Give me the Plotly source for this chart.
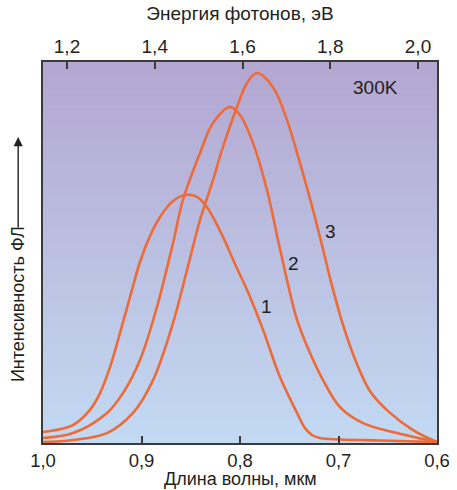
import plotly.graph_objects as go
import numpy as np

# ---- data ----
lam1 = [1.000, 0.9827, 0.9695, 0.9523, 0.9421, 0.9320, 0.9218, 0.9117, 0.9015, 0.8914, 0.8812,
        0.8680, 0.8558, 0.8437, 0.8335, 0.8173, 0.8051, 0.7929, 0.7766, 0.7594, 0.7421,
        0.7340, 0.7269, 0.7188, 0.6985, 0.6579, 0.6000]
int1 = [0.029, 0.036, 0.047, 0.087, 0.131, 0.199, 0.289, 0.383, 0.475, 0.543, 0.593,
        0.635, 0.651, 0.646, 0.619, 0.541, 0.470, 0.402, 0.297, 0.173, 0.079,
        0.039, 0.021, 0.013, 0.0092, 0.0066, 0.0026]

lam2 = [1.000, 0.9695, 0.9350, 0.9188, 0.9015, 0.8843, 0.8680, 0.8579, 0.8406, 0.8274,
        0.8102, 0.8000, 0.7868, 0.7726, 0.7614, 0.7523, 0.7421, 0.7289, 0.7157, 0.6985,
        0.6751, 0.6406, 0.6000]
int2 = [0.013, 0.026, 0.079, 0.131, 0.218, 0.357, 0.525, 0.638, 0.761, 0.840,
        0.882, 0.861, 0.787, 0.664, 0.533, 0.428, 0.323, 0.236, 0.165, 0.094,
        0.052, 0.026, 0.0026]

lam3 = [1.000, 0.9695, 0.9350, 0.9086, 0.8883, 0.8680, 0.8538, 0.8406, 0.8274, 0.8173,
        0.8030, 0.7929, 0.7827, 0.7665, 0.7523, 0.7391, 0.7259, 0.7168, 0.7086, 0.6954,
        0.6812, 0.6680, 0.6477, 0.6244, 0.6000]
int3 = [0.0026, 0.008, 0.026, 0.079, 0.165, 0.315, 0.454, 0.585, 0.690, 0.777,
        0.882, 0.945, 0.971, 0.934, 0.848, 0.735, 0.612, 0.520, 0.433, 0.310,
        0.207, 0.136, 0.079, 0.034, 0.0026]

wl_ticks = [1.0, 0.9, 0.8, 0.7, 0.6]
wl_labels = ["1,0", "0,9", "0,8", "0,7", "0,6"]
en_ticks = [1.2, 1.4, 1.6, 1.8, 2.0]
en_labels = ["1,2", "1,4", "1,6", "1,8", "2,0"]

FONT = "Liberation Sans, Arial, sans-serif"
FS = 19
ORANGE = "#ec6b38"
TXT = "#231f20"
FRAME = "#3a3a3a"

fig = go.Figure()
for lam, inten in [(lam1, int1), (lam2, int2), (lam3, int3)]:
    fig.add_trace(go.Scatter(x=lam, y=inten, mode="lines",
                             line=dict(color=ORANGE, width=2.6, shape="spline", smoothing=1.0),
                             showlegend=False, hoverinfo="skip"))

# invisible trace so the top energy axis is drawn
fig.add_trace(go.Scatter(x=en_ticks, y=[None] * len(en_ticks), xaxis="x2", yaxis="y",
                         mode="markers", showlegend=False, hoverinfo="skip"))

# gradient background
top = np.array([180, 167, 209])
bot = np.array([195, 218, 243])
n = 80
shapes = []
for i in range(n):
    t = (i + 0.5) / n
    c = top * t + bot * (1 - t)
    shapes.append(dict(type="rect", xref="paper", yref="paper", x0=0, x1=1,
                       y0=i / n, y1=(i + 1) / n + 0.002, line=dict(width=0),
                       fillcolor=f"rgb({int(c[0])},{int(c[1])},{int(c[2])})", layer="below"))

fig.update_layout(
    width=457, height=490,
    margin=dict(l=43, r=20, t=62, b=47),
    paper_bgcolor="white",
    plot_bgcolor="rgba(0,0,0,0)",
    shapes=shapes,
    font=dict(family=FONT, size=FS, color=TXT),
    xaxis=dict(range=[1.0, 0.6], tickvals=wl_ticks, ticktext=wl_labels, automargin=False,
               ticks="inside", ticklen=7, tickwidth=1.5, tickcolor=FRAME,
               showline=True, linecolor=FRAME, linewidth=1.6, mirror=True,
               showgrid=False, zeroline=False,
               tickfont=dict(size=18.5, family=FONT, color=TXT)),
    xaxis2=dict(range=[1.1453, 2.0433], overlaying="x", side="top", automargin=False,
                tickvals=en_ticks, ticktext=en_labels, ticklabelstandoff=4,
                ticks="inside", ticklen=7, tickwidth=1.5, tickcolor=FRAME,
                showline=False, showgrid=False, zeroline=False,
                tickfont=dict(size=FS, family=FONT, color=TXT),
                title=dict(text="Энергия фотонов, эВ", font=dict(size=FS, family=FONT, color=TXT),
                           standoff=10)),
    yaxis=dict(range=[0, 1.0], showticklabels=False, ticks="", automargin=False,
               showline=True, linecolor=FRAME, linewidth=1.6, mirror=True,
               showgrid=False, zeroline=False),
)

ann = [
    dict(x=0.7736, y=0.357, text="1"),
    dict(x=0.7452, y=0.470, text="2"),
    dict(x=0.7086, y=0.556, text="3"),
    dict(x=0.6629, y=0.934, text="300K"),
]
for a in ann:
    fig.add_annotation(x=a["x"], y=a["y"], xref="x", yref="y", text=a["text"],
                       showarrow=False, font=dict(size=FS, family=FONT, color=TXT))

# bottom axis title
fig.add_annotation(xref="paper", yref="paper", x=0.5, y=-0.0945, text="Длина волны, мкм",
                   showarrow=False, xanchor="center", yanchor="middle",
                   font=dict(size=18, family=FONT, color=TXT))

# y title with arrow
fig.add_annotation(xref="paper", yref="paper", x=-0.063, y=0.155, text="Интенсивность ФЛ",
                   textangle=-90, showarrow=False, xanchor="center", yanchor="bottom",
                   font=dict(size=18, family=FONT, color=TXT))
fig.add_annotation(xref="paper", yref="paper", x=-0.063, y=0.803, text="", showarrow=True,
                   ax=0, ay=92, arrowhead=2, arrowsize=1.3, arrowwidth=1.4, arrowcolor=TXT)

fig.write_html("out.html", post_script="document.body.style.margin='0px';",
               config={"displayModeBar": False})
